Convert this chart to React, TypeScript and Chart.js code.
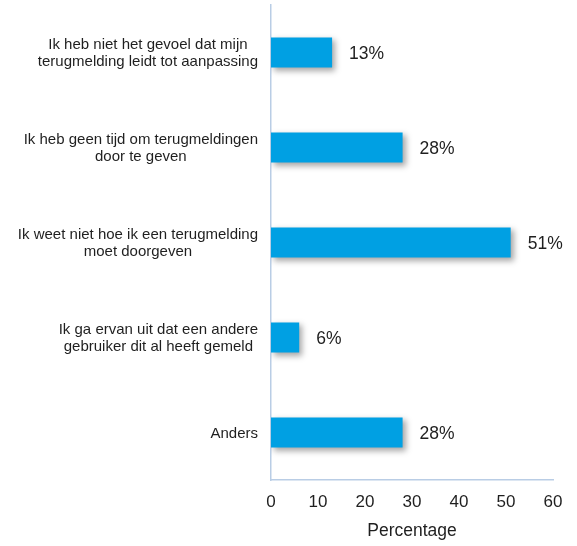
import React, { useEffect, useRef } from "react";
import { Chart, registerables } from "chart.js";

Chart.register(...registerables);

const categories: string[][] = [
  ["Ik heb niet het gevoel dat mijn", "terugmelding leidt tot aanpassing"],
  ["Ik heb geen tijd om terugmeldingen", "door te geven"],
  ["Ik weet niet hoe ik een terugmelding", "moet doorgeven"],
  ["Ik ga ervan uit dat een andere", "gebruiker dit al heeft gemeld"],
  ["Anders"],
];
const values: number[] = [13, 28, 51, 6, 28];
const xTicks: number[] = [0, 10, 20, 30, 40, 50, 60];
const xTitle = "Percentage";

const FONT = "'Liberation Sans', Arial, sans-serif";
const TEXT = "#1f1f1f";
const AXIS = "#b9cde5";
const BAR = "#00a0e3";

const shadowPlugin = {
  id: "barShadow",
  beforeDatasetsDraw(chart: any) {
    const ctx = chart.ctx;
    ctx.save();
    ctx.shadowColor = "rgba(0,0,0,0.35)";
    ctx.shadowBlur = 6;
    ctx.shadowOffsetX = 3;
    ctx.shadowOffsetY = 3;
  },
  afterDatasetsDraw(chart: any) {
    chart.ctx.restore();
  },
};

const labelPlugin = {
  id: "valueLabels",
  afterDraw(chart: any) {
    const ctx = chart.ctx;
    const meta = chart.getDatasetMeta(0);
    ctx.save();
    ctx.font = `17.5px ${FONT}`;
    ctx.fillStyle = TEXT;
    ctx.textAlign = "left";
    ctx.textBaseline = "middle";
    meta.data.forEach((bar: any, i: number) => {
      ctx.fillText(`${values[i]}%`, bar.x + 17, bar.y + 2);
    });
    // category labels: block right-aligned, lines centred within block
    const yScale = chart.scales.y;
    const right = chart.chartArea.left - 13;
    ctx.font = `15px ${FONT}`;
    ctx.textAlign = "center";
    const lh = 17;
    categories.forEach((lines, i) => {
      const cy = yScale.getPixelForValue(i) + 1;
      const maxW = Math.max(...lines.map((l) => ctx.measureText(l).width));
      const cx = right - maxW / 2;
      const start = cy - ((lines.length - 1) * lh) / 2;
      lines.forEach((l, j) => ctx.fillText(l, cx, start + j * lh));
    });
    ctx.restore();
  },
};

export default function App() {
  const ref = useRef<HTMLCanvasElement>(null);
  useEffect(() => {
    if (!ref.current) return;
    const chart = new Chart(ref.current, {
      type: "bar",
      data: {
        labels: categories,
        datasets: [
          {
            data: values,
            backgroundColor: BAR,
            borderWidth: 0,
            categoryPercentage: 0.316,
            barPercentage: 1,
          },
        ],
      },
      options: {
        indexAxis: "y",
        animation: false,
        responsive: true,
        maintainAspectRatio: false,
        layout: { autoPadding: false, padding: { top: 5, right: 24, left: 0, bottom: 4 } },
        plugins: {
          legend: { display: false },
          tooltip: { enabled: false },
        },
        scales: {
          x: {
            min: 0,
            max: 60,
            afterBuildTicks: (axis: any) => {
              axis.ticks = xTicks.map((v) => ({ value: v }));
            },
            afterFit: (axis: any) => {
              axis.height = 62;
            },
            grid: { display: false, drawTicks: false },
            border: { display: true, color: AXIS, width: 1.5 },
            ticks: {
              padding: 12,
              color: TEXT,
              font: { family: FONT, size: 17 },
            },
            title: {
              display: true,
              text: xTitle,
              color: TEXT,
              font: { family: FONT, size: 17.5 },
              padding: { top: 4, bottom: 0 },
            },
          },
          y: {
            afterFit: (axis: any) => {
              axis.width = 271;
            },
            grid: { display: false, drawTicks: false },
            border: { display: true, color: AXIS, width: 1.5 },
            ticks: { display: false },
          },
        },
      },
      plugins: [shadowPlugin, labelPlugin],
    });
    return () => chart.destroy();
  }, []);
  return (
    <div style={{ position: "fixed", left: 0, top: 0, width: 577, height: 546, background: "#fff" }}>
      <canvas ref={ref} />
    </div>
  );
}
